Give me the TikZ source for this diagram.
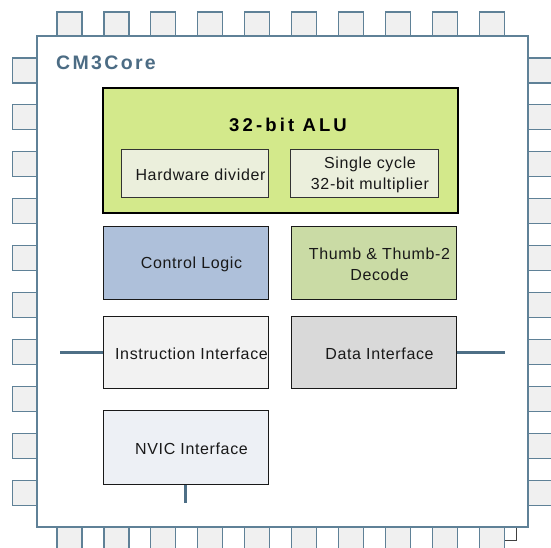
\documentclass[tikz,border=0pt]{standalone}
\usepackage{fontspec}
\setmainfont{Liberation Sans}
\newfontfamily\corefont[LetterSpace=12]{Liberation Sans}
\newfontfamily\alufont[LetterSpace=17]{Liberation Sans}
\newfontfamily\boxfont[LetterSpace=4]{Liberation Sans}
\definecolor{chipline}{HTML}{5F8197}
\definecolor{padfill}{HTML}{F0F0F0}
\definecolor{coretext}{HTML}{4C6C84}
\definecolor{wirecol}{HTML}{4E6F86}
\definecolor{alufill}{HTML}{D3E98B}
\definecolor{subfill}{HTML}{EBEFDC}
\definecolor{ctrlfill}{HTML}{AEC0DA}
\definecolor{thumbfill}{HTML}{CADBA5}
\definecolor{instrfill}{HTML}{F2F2F2}
\definecolor{datafill}{HTML}{D9D9D9}
\definecolor{nvicfill}{HTML}{EDF0F5}
\begin{document}
\begin{tikzpicture}[x=1pt,y=-1pt,
  hpad/.style={draw=chipline,fill=padfill,line width=1.2pt,minimum width=25pt,minimum height=24pt,inner sep=0pt},
  vpad/.style={draw=chipline,fill=padfill,line width=1.2pt,minimum width=24pt,minimum height=25pt,inner sep=0pt},
  unit/.style={draw=black!90,line width=1pt,minimum width=165pt,minimum height=73pt,inner sep=0pt},
  subunit/.style={draw=black!80,fill=subfill,line width=0.9pt,minimum width=147pt,minimum height=48pt,inner sep=0pt},
  txt/.style={xshift=6pt,yshift=-1.5pt,inner sep=0pt,align=center,text=black!90,font=\boxfont\fontsize{16}{21}\selectfont},
  wire/.style={draw=wirecol,line width=3pt}]
\useasboundingbox (0,0) rectangle (551,548);

\draw[black!75,line width=1pt] (503,540) -- (516,540) -- (516,527);

\foreach \i in {0,...,9} {
  \node[hpad] (top\i) at ({69.5+46.9*\i},24) {};
  \node[hpad] (bot\i) at ({69.5+46.9*\i},539) {};
  \node[vpad] (lft\i) at (24.5,{70.5+46.9*\i}) {};
  \node[vpad] (rgt\i) at (540,{70.5+46.9*\i}) {};
}

\node[draw=chipline,fill=white,line width=1.5pt,minimum size=491pt,inner sep=0pt] (core) at (282.5,281.5) {};
\node[anchor=base west,inner sep=0pt,text=coretext,font=\corefont\bfseries\fontsize{19.5}{23}\selectfont] (corename) at (56,70) {CM3Core};

\node[draw=black,fill=alufill,line width=1.3pt,minimum width=355pt,minimum height=125pt,inner sep=0pt] (alu) at (280.5,150.5) {};
\node[anchor=base,inner sep=0pt,font=\alufont\bfseries\fontsize{18.5}{22}\selectfont] (aluname) at (288,131.5) {32-bit ALU};
\node[subunit,label={[txt]center:Hardware divider}] (divider) at (194.5,173) {};
\node[subunit,minimum width=148pt,label={[txt]center:Single cycle\\32-bit multiplier}] (multiplier) at (364,173) {};

\node[unit,fill=ctrlfill,label={[txt]center:Control Logic}] (control) at (185.5,262.5) {};
\node[unit,fill=thumbfill,label={[txt]center:Thumb \& Thumb-2\\Decode}] (decode) at (373.5,262.5) {};
\node[unit,fill=instrfill,minimum height=72pt,label={[txt]center:Instruction Interface}] (instr) at (185.5,352) {};
\node[unit,fill=datafill,minimum height=72pt,label={[txt]center:Data Interface}] (data) at (373.5,352) {};
\node[unit,fill=nvicfill,minimum height=74pt,label={[txt]center:NVIC Interface}] (nvic) at (185.5,447) {};

\coordinate (ibus) at (60,352);
\coordinate (dbus) at (505,352);
\coordinate (irq) at (185.5,503);
\path[wire] (ibus) -- (instr.west);
\path[wire] (data.east) -- (dbus);
\path[wire] (nvic.south) -- (irq);
\end{tikzpicture}
\end{document}
